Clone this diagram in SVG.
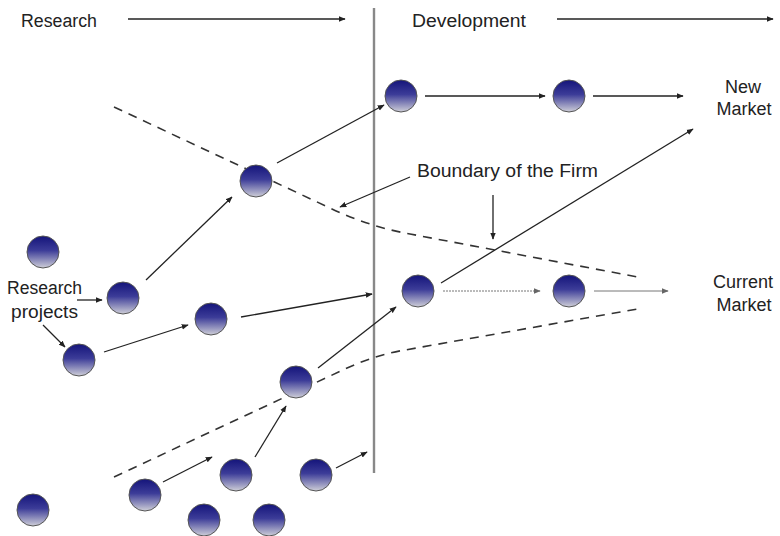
<svg xmlns="http://www.w3.org/2000/svg" width="780" height="536" viewBox="0 0 780 536">
<defs>
<linearGradient id="ball" x1="0" y1="0" x2="0" y2="1">
<stop offset="0" stop-color="#14147a"/>
<stop offset="0.45" stop-color="#3c3c98"/>
<stop offset="1" stop-color="#cfcfd8"/>
</linearGradient>
<marker id="ah" viewBox="0 0 10 10" refX="9" refY="5" markerWidth="7" markerHeight="7" markerUnits="userSpaceOnUse" orient="auto">
<path d="M0,1 L10,5 L0,9 Z" fill="#222"/>
</marker>
<marker id="ahg" viewBox="0 0 10 10" refX="9" refY="5" markerWidth="7" markerHeight="7" markerUnits="userSpaceOnUse" orient="auto">
<path d="M0,1 L10,5 L0,9 Z" fill="#666"/>
</marker>
</defs>
<style>
.n{fill:url(#ball);stroke:#555;stroke-width:1}
.a{fill:none;stroke:#222;stroke-width:1.3;marker-end:url(#ah)}
.g{fill:none;stroke:#777;stroke-width:1;marker-end:url(#ahg)}
.d{fill:none;stroke:#333;stroke-width:1.6;stroke-dasharray:9,7}
.t{font-family:"Liberation Sans",Arial,sans-serif;font-size:18px;fill:#222}
</style>
<rect width="780" height="536" fill="#fff"/>
<line x1="374" y1="8" x2="374" y2="473" stroke="#888" stroke-width="2.4"/>
<g id="boundaries">
<path class="d" d="M114,107 L330,208 Q370,227 410,234 L643,278"/>
<path class="d" d="M114,477 L345,369 Q375,355 405,350 L643,308"/>
</g>
<g id="connectors">
<line class="a" x1="128" y1="19" x2="345" y2="19"/>
<line class="a" x1="557" y1="19" x2="773" y2="19"/>
<line class="a" x1="425" y1="96" x2="545" y2="96"/>
<line class="a" x1="593" y1="96" x2="683" y2="96"/>
<line class="a" x1="277" y1="163" x2="384" y2="105"/>
<line class="a" x1="146" y1="280" x2="232" y2="197"/>
<line class="a" x1="77" y1="300" x2="102" y2="300"/>
<line class="a" x1="43" y1="325" x2="65" y2="347"/>
<line class="a" x1="104" y1="352" x2="188" y2="325"/>
<line class="a" x1="241" y1="317" x2="372" y2="294"/>
<line class="a" x1="318" y1="368" x2="396" y2="307"/>
<line class="a" x1="255" y1="457" x2="286" y2="406"/>
<line class="a" x1="163" y1="482" x2="212" y2="457"/>
<line class="a" x1="336" y1="468" x2="367" y2="452"/>
<line class="a" x1="441" y1="283" x2="693" y2="129"/>
<line class="g" x1="443" y1="291" x2="540" y2="291" stroke-dasharray="2,1"/>
<line class="g" x1="594" y1="291" x2="668" y2="291"/>
<line class="a" x1="410" y1="177" x2="340" y2="207"/>
<line class="a" x1="493" y1="195" x2="493" y2="239"/>
</g>
<g id="n1"><circle class="n" cx="401" cy="96" r="16"/></g>
<g id="n2"><circle class="n" cx="569" cy="96" r="16"/></g>
<g id="n3"><circle class="n" cx="256" cy="181" r="16"/></g>
<g id="n4"><circle class="n" cx="43" cy="252" r="16"/></g>
<g id="n5"><circle class="n" cx="123" cy="298" r="16"/></g>
<g id="n6"><circle class="n" cx="211" cy="319" r="16"/></g>
<g id="n7"><circle class="n" cx="79" cy="360" r="16"/></g>
<g id="n8"><circle class="n" cx="296" cy="382" r="16"/></g>
<g id="n9"><circle class="n" cx="33" cy="510" r="16"/></g>
<g id="n10"><circle class="n" cx="145" cy="495" r="16"/></g>
<g id="n11"><circle class="n" cx="236" cy="475" r="16"/></g>
<g id="n12"><circle class="n" cx="316" cy="475" r="16"/></g>
<g id="n13"><circle class="n" cx="204" cy="520" r="16"/></g>
<g id="n14"><circle class="n" cx="269" cy="520" r="16"/></g>
<g id="n15"><circle class="n" cx="418" cy="291" r="16"/></g>
<g id="n16"><circle class="n" cx="569" cy="291" r="16"/></g>
<g id="labels">
<text class="t" x="21" y="27" textLength="76" lengthAdjust="spacingAndGlyphs">Research</text>
<text class="t" x="412" y="27" textLength="114" lengthAdjust="spacingAndGlyphs">Development</text>
<text class="t" x="743" y="93" text-anchor="middle">New</text>
<text class="t" x="744" y="115" text-anchor="middle">Market</text>
<text class="t" x="417" y="177" textLength="181" lengthAdjust="spacingAndGlyphs">Boundary of the Firm</text>
<text class="t" x="743" y="288" text-anchor="middle">Current</text>
<text class="t" x="744" y="311" text-anchor="middle">Market</text>
<text class="t" x="7" y="294" textLength="75" lengthAdjust="spacingAndGlyphs">Research</text>
<text class="t" x="11" y="318" textLength="67" lengthAdjust="spacingAndGlyphs">projects</text>
</g>
</svg>
